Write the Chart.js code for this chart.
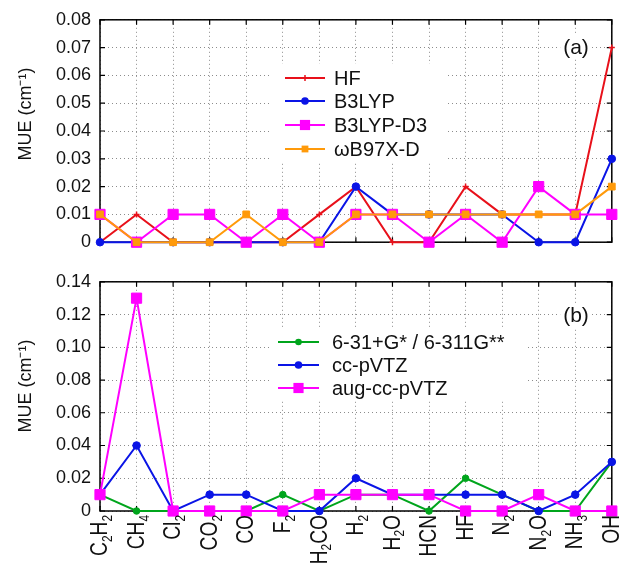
<!DOCTYPE html>
<html>
<head>
<meta charset="utf-8">
<script src="https://cdn.jsdelivr.net/npm/chart.js@4.4.0/dist/chart.umd.min.js"></script>
<style>
  html, body { margin: 0; padding: 0; background: #fff; }
  #wrap { position: relative; width: 620px; height: 578px; overflow: hidden; }
  canvas { position: absolute; left: 0; }
</style>
</head>
<body>
<div id="wrap">
  <canvas id="chartA" width="620" height="262" style="top:0"></canvas>
  <canvas id="chartB" width="620" height="316" style="top:262px"></canvas>
</div>
<script>
// molecules on the x axis (digits are drawn as subscripts)
const molecules = ["C2H2", "CH4", "Cl2", "CO2", "CO", "F2", "H2CO", "H2", "H2O", "HCN", "HF", "N2", "N2O", "NH3", "OH"];

// panel (a): functionals
const hf      = [0, 0.01, 0, 0, 0, 0, 0.01, 0.02, 0, 0, 0.02, 0.01, 0.01, 0.01, 0.07];
const b3lyp   = [0, 0, 0, 0, 0, 0, 0, 0.02, 0.01, 0.01, 0.01, 0.01, 0, 0, 0.03];
const b3lypD3 = [0.01, 0, 0.01, 0.01, 0, 0.01, 0, 0.01, 0.01, 0, 0.01, 0, 0.02, 0.01, 0.01];
const wb97xd  = [0.01, 0, 0, 0, 0.01, 0, 0, 0.01, 0.01, 0.01, 0.01, 0.01, 0.01, 0.01, 0.02];

// panel (b): basis sets
const pople     = [0.01, 0, 0, 0, 0, 0.01, 0, 0.01, 0.01, 0, 0.02, 0.01, 0, 0, 0.03];
const ccpvtz    = [0.01, 0.04, 0, 0.01, 0.01, 0, 0, 0.02, 0.01, 0.01, 0.01, 0.01, 0, 0.01, 0.03];
const augccpvtz = [0.01, 0.13, 0, 0, 0, 0, 0.01, 0.01, 0.01, 0.01, 0, 0, 0.01, 0, 0];

const FONT = "'Liberation Sans', Arial, Helvetica, sans-serif";
const RED = "#e8101a", BLUE = "#0a14e6", MAGENTA = "#ff00ff", ORANGE = "#ff9a0a", GREEN = "#00a51c";

function drawMarker(ctx, style, x, y, r, color) {
  ctx.save();
  ctx.fillStyle = color;
  ctx.strokeStyle = color;
  ctx.lineWidth = 1.5;
  ctx.beginPath();
  if (style === "rect") {
    const s = r * Math.SQRT1_2;
    ctx.rect(x - s, y - s, 2 * s, 2 * s);
    ctx.fill();
  } else if (style === "cross") {
    ctx.moveTo(x - r, y); ctx.lineTo(x + r, y);
    ctx.moveTo(x, y - r); ctx.lineTo(x, y + r);
    ctx.stroke();
  } else {
    ctx.arc(x, y, r, 0, Math.PI * 2);
    ctx.fill();
  }
  ctx.restore();
}

// box frame + inward ticks, gnuplot style; y title drawn here too
const framePlugin = {
  id: "frame",
  beforeDatasetsDraw(chart, args, o) {
    const { ctx, chartArea: a, scales: { x, y } } = chart;
    ctx.save();
    ctx.strokeStyle = "#000";
    ctx.lineWidth = 1.5;
    ctx.strokeRect(a.left, a.top, a.right - a.left, a.bottom - a.top);
    ctx.lineWidth = 1.2;
    ctx.beginPath();
    y.ticks.forEach(t => {
      const py = y.getPixelForValue(t.value);
      ctx.moveTo(a.left, py); ctx.lineTo(a.left + 5, py);
      ctx.moveTo(a.right, py); ctx.lineTo(a.right - 5, py);
    });
    x.ticks.forEach((t, i) => {
      const px = x.getPixelForValue(i);
      ctx.moveTo(px, a.bottom); ctx.lineTo(px, a.bottom - 5);
      ctx.moveTo(px, a.top); ctx.lineTo(px, a.top + 5);
    });
    ctx.stroke();
    // axis title
    ctx.translate(o.titleX, o.titleY);
    ctx.rotate(-Math.PI / 2);
    ctx.font = "18px " + FONT;
    ctx.fillStyle = "#111";
    ctx.textAlign = "center";
    ctx.textBaseline = "middle";
    ctx.fillText("MUE (cm\u207B\u00B9)", 0, 0);
    ctx.restore();
  }
};

// legend inside the plot on a white patch, plus the panel tag
const insetLegend = {
  id: "insetLegend",
  afterDatasetsDraw(chart, args, o) {
    const ctx = chart.ctx;
    ctx.save();
    ctx.fillStyle = "#fff";
    ctx.fillRect(o.box[0], o.box[1], o.box[2], o.box[3]);
    ctx.font = o.size + "px " + FONT;
    ctx.textBaseline = "middle";
    o.order.forEach((di, row) => {
      const ds = chart.data.datasets[di];
      const ry = o.rows[row];
      ctx.strokeStyle = ds.borderColor;
      ctx.lineWidth = 2;
      ctx.beginPath();
      ctx.moveTo(o.lineX[0], ry); ctx.lineTo(o.lineX[1], ry);
      ctx.stroke();
      drawMarker(ctx, ds.pointStyle, (o.lineX[0] + o.lineX[1]) / 2, ry, ds.pointRadius, ds.borderColor);
      ctx.fillStyle = "#111";
      ctx.fillText(ds.label, o.textX, ry + 1);
    });
    // panel tag
    ctx.font = o.tagSize + "px " + FONT;
    ctx.textAlign = "center";
    const tw = ctx.measureText(o.tag).width;
    ctx.fillStyle = "#fff";
    ctx.fillRect(o.tagX - tw / 2 - 3, o.tagY - 12, tw + 6, 24);
    ctx.fillStyle = "#111";
    ctx.fillText(o.tag, o.tagX, o.tagY + 1);
    ctx.restore();
  }
};

// rotated molecule names with subscript digits
const chemLabels = {
  id: "chemLabels",
  afterDraw(chart, args, o) {
    if (!o.show) return;
    const { ctx, chartArea, scales: { x } } = chart;
    const F = o.size;
    chart.data.labels.forEach((lab, i) => {
      const parts = lab.match(/[A-Za-z]+|\d+/g);
      const px = x.getPixelForValue(i);
      ctx.save();
      ctx.translate(px, chartArea.bottom + o.gap);
      ctx.rotate(-Math.PI / 2);
      ctx.scale(o.squeeze, 1);
      ctx.fillStyle = "#111";
      ctx.textBaseline = "alphabetic";
      let widths = parts.map(p => {
        ctx.font = (/\d/.test(p) ? F * 0.62 : F) + "px " + FONT;
        return ctx.measureText(p).width;
      });
      let cx = -widths.reduce((s, w) => s + w, 0);
      const base = F * 0.3;
      parts.forEach((p, k) => {
        const sub = /\d/.test(p);
        ctx.font = (sub ? F * 0.62 : F) + "px " + FONT;
        ctx.fillText(p, cx, base + (sub ? F * 0.2 : 0));
        cx += widths[k];
      });
      ctx.restore();
    });
  }
};

function series(label, data, color, style, radius) {
  return {
    label: label,
    data: data,
    borderColor: color,
    backgroundColor: color,
    borderWidth: 2,
    pointStyle: style,
    pointRadius: radius,
    pointHoverRadius: radius,
    pointBackgroundColor: color,
    pointBorderColor: color,
    pointBorderWidth: style === "cross" ? 1.5 : 1,
    tension: 0,
    clip: false
  };
}

function panelOptions(yMax, step, xHeight, topPad, frameOpts, legendOpts, labelOpts) {
  return {
    responsive: false,
    animation: false,
    layout: { padding: { top: topPad, right: 7, left: 0, bottom: 0 } },
    plugins: {
      legend: { display: false },
      tooltip: { enabled: false },
      frame: frameOpts,
      insetLegend: legendOpts,
      chemLabels: labelOpts
    },
    scales: {
      x: {
        type: "category",
        offset: false,
        ticks: { display: false },
        grid: { color: "#8c8c8c", lineWidth: 1, drawTicks: false },
        border: { display: false, dash: [1, 3] },
        afterFit: s => { s.height = xHeight; }
      },
      y: {
        min: 0,
        max: yMax,
        ticks: {
          stepSize: step,
          padding: 9,
          color: "#111",
          font: { family: FONT, size: 18 },
          callback: v => (v === 0 ? "0" : v.toFixed(2))
        },
        grid: { color: "#8c8c8c", lineWidth: 1, drawTicks: false },
        border: { display: false, dash: [1, 3] },
        afterFit: s => { s.width = 100; }
      }
    }
  };
}

// panel (a) — lower order is drawn on top
new Chart(document.getElementById("chartA"), {
  type: "line",
  data: {
    labels: molecules,
    datasets: [
      Object.assign(series("HF", hf, RED, "cross", 3), { order: 4 }),
      Object.assign(series("B3LYP", b3lyp, BLUE, "circle", 3.8), { order: 3 }),
      Object.assign(series("B3LYP-D3", b3lypD3, MAGENTA, "rect", 7.2), { order: 2 }),
      Object.assign(series("\u03C9B97X-D", wb97xd, ORANGE, "rect", 4.8), { order: 1 })
    ]
  },
  options: panelOptions(0.08, 0.01, 12, 18, { titleX: 26, titleY: 114 }, {
    box: [272, 64, 176, 98], rows: [78, 101, 125, 149], lineX: [285, 325], textX: 334,
    size: 20, order: [0, 1, 2, 3], tag: "(a)", tagX: 576, tagY: 47, tagSize: 21
  }, { show: false }),
  plugins: [framePlugin, insetLegend, chemLabels]
});

// panel (b)
new Chart(document.getElementById("chartB"), {
  type: "line",
  data: {
    labels: molecules,
    datasets: [
      Object.assign(series("6-31+G* / 6-311G**", pople, GREEN, "circle", 3.3), { order: 3 }),
      Object.assign(series("cc-pVTZ", ccpvtz, BLUE, "circle", 3.8), { order: 2 }),
      Object.assign(series("aug-cc-pVTZ", augccpvtz, MAGENTA, "rect", 7.2), { order: 1 })
    ]
  },
  options: panelOptions(0.14, 0.02, 67, 17, { titleX: 26, titleY: 124 }, {
    box: [270, 66, 255, 72], rows: [80, 103, 126], lineX: [278, 319], textX: 332,
    size: 20, order: [0, 1, 2], tag: "(b)", tagX: 576, tagY: 53, tagSize: 21
  }, { show: true, size: 24, squeeze: 0.8, gap: 4 }),
  plugins: [framePlugin, insetLegend, chemLabels]
});
</script>
</body>
</html>
